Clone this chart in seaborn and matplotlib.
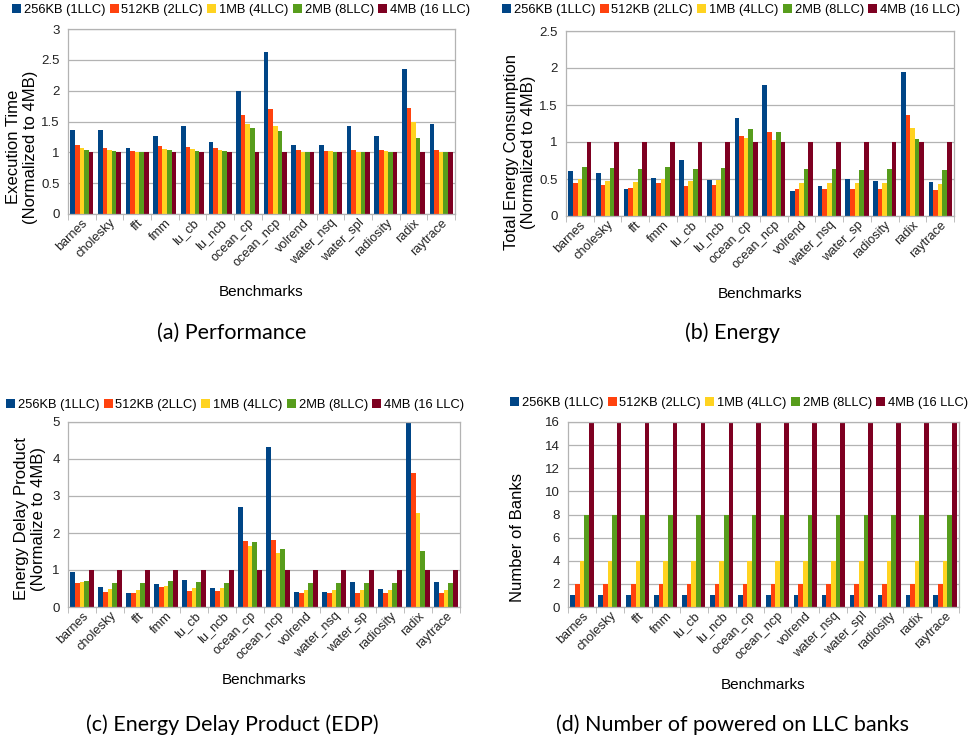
import numpy as np
import matplotlib
matplotlib.use('Agg')
import matplotlib.pyplot as plt
import seaborn as sns
import pandas as pd
from matplotlib.ticker import MultipleLocator, FixedLocator

benchmarks = ['barnes', 'cholesky', 'fft', 'fmm', 'lu_cb', 'lu_ncb', 'ocean_cp',
              'ocean_ncp', 'volrend', 'water_nsq', 'water_spl', 'radiosity', 'radix', 'raytrace']
benchmarks_sp = [b if b != 'water_spl' else 'water_sp' for b in benchmarks]
configs = ['256KB (1LLC)', '512KB (2LLC)', '1MB (4LLC)', '2MB (8LLC)', '4MB (16 LLC)']
colours = ['#004586', '#ff420e', '#ffd320', '#579d1c', '#7e0021']

# (a) execution time, normalised to 4MB
perf_1llc = [1.37, 1.36, 1.07, 1.26, 1.43, 1.17, 2.00, 2.62, 1.12, 1.12, 1.43, 1.26, 2.35, 1.46]
perf_2llc = [1.12, 1.07, 1.02, 1.10, 1.09, 1.07, 1.61, 1.70, 1.04, 1.02, 1.04, 1.04, 1.72, 1.04]
perf_4llc = [1.07, 1.04, 1.00, 1.05, 1.05, 1.04, 1.46, 1.43, 1.00, 1.02, 1.00, 1.02, 1.49, 1.00]
perf_8llc = [1.04, 1.02, 1.00, 1.04, 1.02, 1.02, 1.39, 1.35, 1.00, 1.00, 1.00, 1.00, 1.23, 1.00]
perf_16llc = [1.0] * 14

# (b) total energy, normalised to 4MB
energy_1llc = [0.61, 0.58, 0.37, 0.51, 0.76, 0.49, 1.33, 1.77, 0.34, 0.41, 0.50, 0.47, 1.94, 0.46]
energy_2llc = [0.45, 0.42, 0.38, 0.45, 0.41, 0.42, 1.08, 1.14, 0.37, 0.37, 0.37, 0.37, 1.37, 0.35]
energy_4llc = [0.50, 0.47, 0.46, 0.50, 0.47, 0.49, 1.06, 1.03, 0.45, 0.45, 0.45, 0.45, 1.19, 0.43]
energy_8llc = [0.66, 0.65, 0.64, 0.66, 0.64, 0.65, 1.18, 1.14, 0.64, 0.64, 0.62, 0.64, 1.04, 0.62]
energy_16llc = [1.0] * 14

# (c) energy delay product
edp_1llc = [0.95, 0.54, 0.38, 0.62, 0.73, 0.51, 2.70, 4.32, 0.41, 0.41, 0.68, 0.49, 5.00, 0.68]
edp_2llc = [0.65, 0.41, 0.38, 0.54, 0.43, 0.43, 1.78, 1.81, 0.38, 0.38, 0.38, 0.38, 3.62, 0.38]
edp_4llc = [0.68, 0.49, 0.46, 0.57, 0.51, 0.51, 1.65, 1.46, 0.46, 0.46, 0.46, 0.46, 2.54, 0.46]
edp_8llc = [0.70, 0.65, 0.65, 0.70, 0.68, 0.65, 1.76, 1.57, 0.65, 0.65, 0.65, 0.65, 1.51, 0.65]
edp_16llc = [1.0] * 14

# (d) powered on banks
banks_1llc = [1] * 14
banks_2llc = [2] * 14
banks_4llc = [4] * 14
banks_8llc = [8] * 14
banks_16llc = [16] * 14

W, H = 971, 740
plt.rcParams['font.family'] = ['Liberation Sans', 'DejaVu Sans']
fig = plt.figure(figsize=(W / 100, H / 100), dpi=100)


def make_df(names, series):
    rows = []
    for cfg, vals in zip(configs, series):
        for b, v in zip(names, vals):
            rows.append({'bench': b, 'config': cfg, 'value': v})
    return pd.DataFrame(rows)


def panel(box, names, series, ylim, step, ylabel, ylabel_xy, legend_xy, xlabel_y, caption, caption_xy):
    l, t, r, b = box
    ax = fig.add_axes([l / W, 1 - b / H, (r - l) / W, (b - t) / H])
    df = make_df(names, series)
    sns.barplot(data=df, x='bench', y='value', hue='config', palette=colours,
                saturation=1, width=0.83, linewidth=0, ax=ax, legend=True)
    ax.set_ylim(*ylim)
    ax.set_xlim(-0.5, len(names) - 0.5)
    ax.yaxis.set_major_locator(MultipleLocator(step))
    ax.yaxis.set_major_formatter(matplotlib.ticker.FuncFormatter(lambda v, p: ('%g' % v)))
    ax.grid(axis='y', color='#b3b3b3', linewidth=0.9)
    ax.set_axisbelow(True)
    for s in ax.spines.values():
        s.set_color('#b3b3b3')
        s.set_linewidth(0.9)
    ax.tick_params(axis='y', labelsize=9.5, length=0, pad=6, colors='#222222')
    ax.tick_params(axis='x', which='major', length=0, labelsize=9.2, pad=2, colors='#222222')
    ax.xaxis.set_minor_locator(FixedLocator(np.arange(-0.5, len(names), 1.0)))
    ax.tick_params(axis='x', which='minor', length=4, color='#b3b3b3')
    ax.set_xticks(range(len(names)))
    ax.set_xticklabels(names, rotation=45, ha='right', rotation_mode='anchor')
    ax.set_xlabel('')
    ax.set_ylabel('')
    fig.text(ylabel_xy[0] / W, 1 - ylabel_xy[1] / H, ylabel, rotation=90, ha='center', va='center',
             fontsize=12, linespacing=1.15)
    fig.text((l + r) / 2 / W, 1 - xlabel_y / H, 'Benchmarks', ha='center', va='center', fontsize=11)
    fig.text(caption_xy[0] / W, 1 - caption_xy[1] / H, caption, ha='center', va='center',
             fontsize=15.5, family=['Lato', 'DejaVu Sans'])
    handles, labels = ax.get_legend_handles_labels()
    ax.legend(handles, labels, loc='center', bbox_to_anchor=(legend_xy[0] / W, 1 - legend_xy[1] / H),
              bbox_transform=fig.transFigure, ncol=5, frameon=False, fontsize=9.3,
              handlelength=0.7, handleheight=0.7, handletextpad=0.2, columnspacing=0.35,
              borderaxespad=0, borderpad=0)
    return ax


panel((68, 29, 455, 214), benchmarks,
      [perf_1llc, perf_2llc, perf_4llc, perf_8llc, perf_16llc], (0, 3), 0.5,
      'Execution Time\n(Normalized to 4MB)', (22, 147), (241, 10), 292, '(a) Performance', (232, 333))
panel((566, 31, 954, 216), benchmarks_sp,
      [energy_1llc, energy_2llc, energy_4llc, energy_8llc, energy_16llc], (0, 2.5), 0.5,
      'Total Energy Consumption\n(Normalized to 4MB)', (520, 152), (731, 10), 294, '(b) Energy', (732, 333))
panel((68, 422, 460, 607), benchmarks_sp,
      [edp_1llc, edp_2llc, edp_4llc, edp_8llc, edp_16llc], (0, 5), 1,
      'Energy Delay Product\n(Normalize to 4MB)', (30, 519), (235, 405), 680,
      '(c) Energy Delay Product (EDP)', (232, 725))
panel((568, 422, 959, 607), benchmarks,
      [banks_1llc, banks_2llc, banks_4llc, banks_8llc, banks_16llc], (0, 16), 2,
      'Number of Banks', (517, 537), (739, 403), 685,
      '(d) Number of powered on LLC banks', (732, 725))

fig.savefig('out.png', dpi=100)
